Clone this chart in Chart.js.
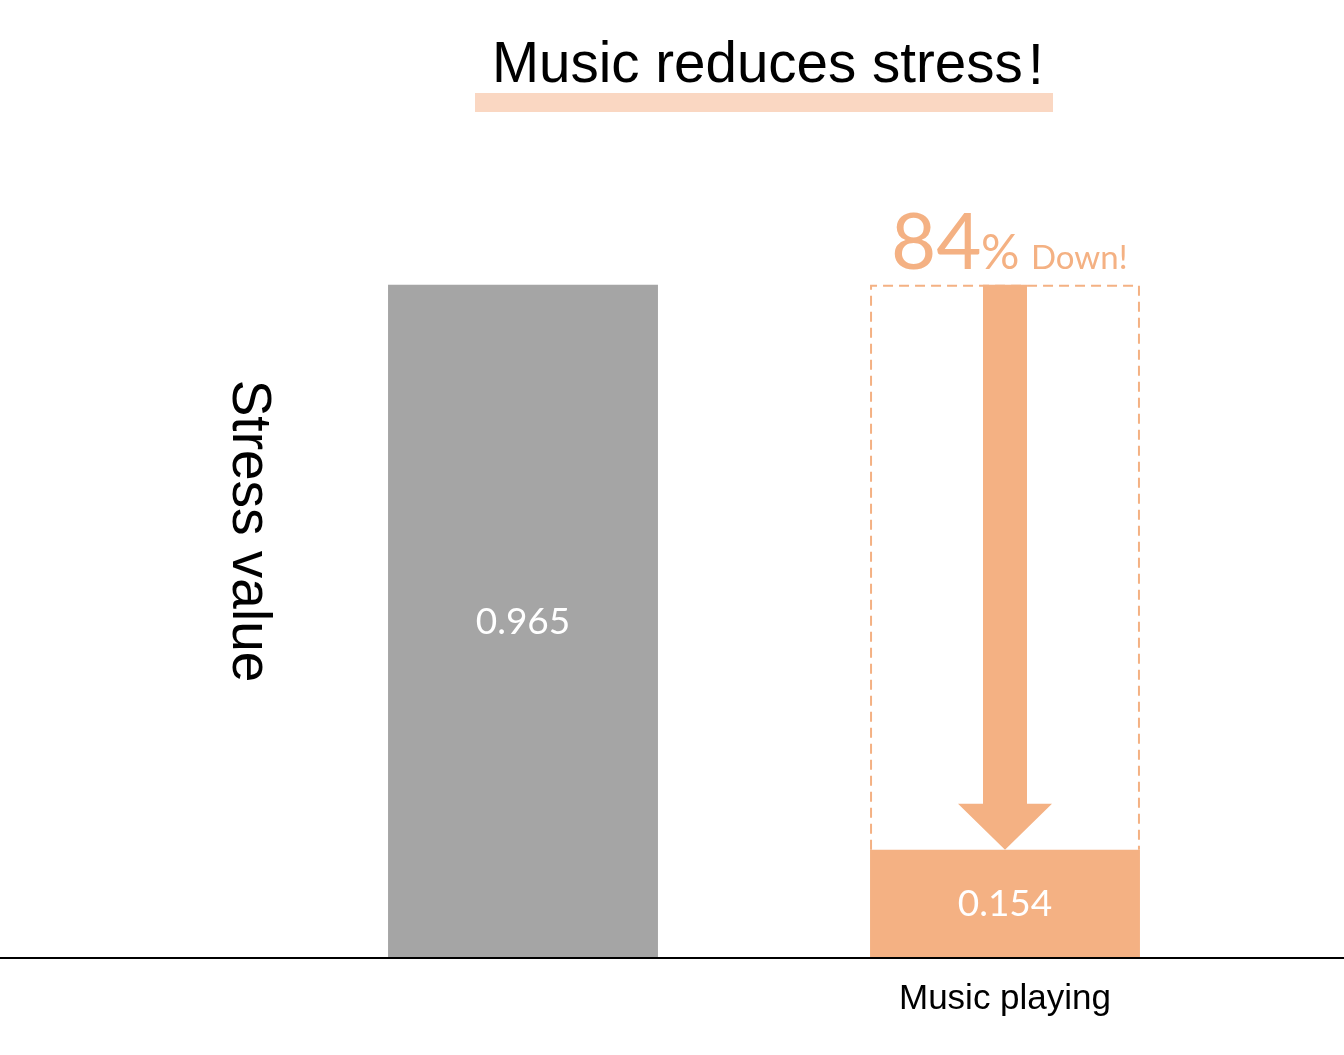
<!DOCTYPE html>
<html>
<head>
<meta charset="utf-8">
<script src="https://cdn.jsdelivr.net/npm/chart.js@4.4.1/dist/chart.umd.min.js"></script>
<style>
  html, body { margin: 0; padding: 0; background: #fff; }
  #wrap { width: 1344px; height: 1055px; }
</style>
</head>
<body>
<div id="wrap"><canvas id="myChart" width="1344" height="1055"></canvas></div>
<script>
// data
const categories = ['', 'Music playing'];
const stressValues = [0.965, 0.154];
const barColors = ['#A5A5A5', '#F4B183'];
const titleText = 'Music reduces stress';
const yTitle = 'Stress value';
const dropPct = '84';

const orange = '#F4B183';

// draws title, y title, labels, dashed box and arrow
const decoPlugin = {
  id: 'deco',
  afterDatasetsDraw(chart) {
    const ctx = chart.ctx;
    const y = chart.scales.y;
    const meta = chart.getDatasetMeta(0);
    const base = y.getPixelForValue(0);

    ctx.save();
    // title + highlight band
    ctx.fillStyle = '#FAD7C2';
    ctx.fillRect(475, 93, 578, 19);
    ctx.fillStyle = '#000';
    ctx.font = '56.5px "Liberation Sans", Arial, sans-serif';
    ctx.textAlign = 'left';
    ctx.textBaseline = 'alphabetic';
    ctx.fillText(titleText, 492, 82);
    ctx.fillText('!', 1028, 84);

    // y axis title (reads top to bottom)
    ctx.save();
    ctx.translate(248, 531);
    ctx.rotate(Math.PI / 2);
    ctx.textAlign = 'center';
    ctx.textBaseline = 'middle';
    ctx.font = '55px "Liberation Sans", Arial, sans-serif';
    ctx.fillText(yTitle, 0, 0);
    ctx.restore();

    // value labels
    ctx.fillStyle = '#fff';
    ctx.font = '37px Lato, "Open Sans", sans-serif';
    ctx.textAlign = 'center';
    ctx.textBaseline = 'middle';
    meta.data.forEach((bar, i) => {
      ctx.fillText(stressValues[i].toFixed(3), bar.x, (bar.y + bar.base) / 2 + 1);
    });

    // dashed box over second bar, up to first bar's height
    const b1 = meta.data[1];
    const topY = y.getPixelForValue(stressValues[0]);
    const l = b1.x - b1.width / 2, r = b1.x + b1.width / 2;
    ctx.strokeStyle = orange;
    ctx.lineWidth = 2;
    ctx.setLineDash([10, 6]);
    ctx.beginPath();
    ctx.moveTo(l + 1, b1.y);
    ctx.lineTo(l + 1, topY + 1);
    ctx.lineTo(r - 1, topY + 1);
    ctx.lineTo(r - 1, b1.y);
    ctx.stroke();
    ctx.setLineDash([]);

    // arrow
    const cx = b1.x;
    const tip = b1.y;
    const headTop = tip - 46;
    ctx.fillStyle = orange;
    ctx.beginPath();
    ctx.moveTo(cx - 22, topY);
    ctx.lineTo(cx + 22, topY);
    ctx.lineTo(cx + 22, headTop);
    ctx.lineTo(cx + 47, headTop);
    ctx.lineTo(cx, tip);
    ctx.lineTo(cx - 47, headTop);
    ctx.lineTo(cx - 22, headTop);
    ctx.closePath();
    ctx.fill();

    // 84% Down!
    ctx.textAlign = 'left';
    ctx.textBaseline = 'alphabetic';
    ctx.font = '78px Lato, "Open Sans", sans-serif';
    ctx.fillText(dropPct, 891, 269);
    ctx.font = '48px Lato, "Open Sans", sans-serif';
    ctx.fillText('%', 981, 269);
    ctx.font = '33px Lato, "Open Sans", sans-serif';
    ctx.fillText('Down!', 1031, 269);

    // baseline across the whole width
    ctx.strokeStyle = '#000';
    ctx.lineWidth = 2;
    ctx.beginPath();
    ctx.moveTo(0, Math.round(base) + 1);
    ctx.lineTo(chart.width, Math.round(base) + 1);
    ctx.stroke();
    ctx.restore();
  }
};

const ctx = document.getElementById('myChart');
new Chart(ctx, {
  type: 'bar',
  data: {
    labels: categories,
    datasets: [{
      data: stressValues,
      backgroundColor: barColors,
      borderWidth: 0,
      barPercentage: 1,
      categoryPercentage: 0.56
    }]
  },
  options: {
    responsive: false,
    animation: false,
    layout: { padding: { left: 282, right: 98, top: 121, bottom: 14 } },
    plugins: {
      legend: { display: false },
      tooltip: { enabled: false },
      title: { display: false }
    },
    scales: {
      x: {
        grid: { display: false, drawTicks: false },
        border: { display: false },
        ticks: {
          color: '#000',
          padding: 21,
          font: { family: '"Liberation Sans", Arial, sans-serif', size: 35 }
        }
      },
      y: {
        display: false,
        min: 0,
        max: 1.2
      }
    }
  },
  plugins: [decoPlugin]
});
</script>
</body>
</html>
